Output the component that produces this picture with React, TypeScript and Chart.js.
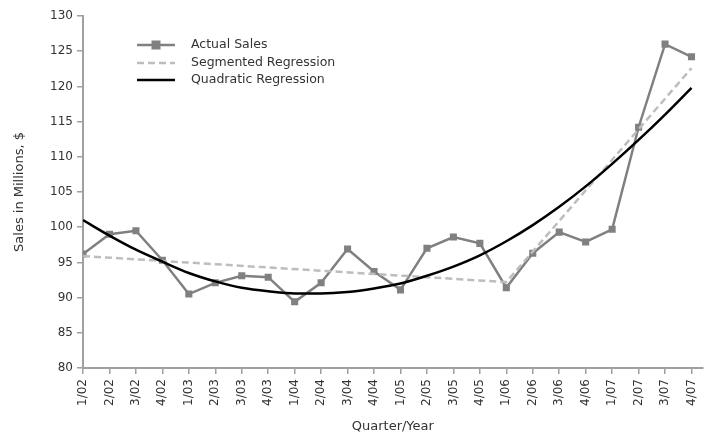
import React, { useEffect, useRef } from "react";
import { Chart, registerables } from "chart.js";

Chart.register(...registerables);

const quarters = [
  "1/02", "2/02", "3/02", "4/02",
  "1/03", "2/03", "3/03", "4/03",
  "1/04", "2/04", "3/04", "4/04",
  "1/05", "2/05", "3/05", "4/05",
  "1/06", "2/06", "3/06", "4/06",
  "1/07", "2/07", "3/07", "4/07",
];

const actualSales = [
  96.2, 99.0, 99.5, 95.3,
  90.5, 92.1, 93.1, 92.9,
  89.4, 92.1, 96.9, 93.7,
  91.1, 97.0, 98.6, 97.7,
  91.4, 96.3, 99.3, 97.9,
  99.7, 114.2, 126.0, 124.2,
];

// Segmented regression: readable at its end points and break point only
const segmentedRegression: (number | null)[] = [
  95.9, null, null, null,
  null, null, null, null,
  null, null, null, null,
  null, null, null, null,
  92.2, null, null, null,
  null, null, null, 122.6,
];

const quadraticRegression = [
  101.0, 98.8, 96.8, 95.1,
  93.5, 92.3, 91.4, 90.9,
  90.6, 90.6, 90.8, 91.3,
  92.0, 93.1, 94.4, 96.0,
  98.0, 100.3, 102.9, 105.8,
  109.0, 112.4, 116.0, 119.8,
];

const yTicks = { min: 80, max: 130, step: 5 };
const seriesNames = ["Actual Sales", "Segmented Regression", "Quadratic Regression"];

const FONT = "'DejaVu Sans', Verdana, sans-serif";

const legendPlugin = {
  id: "customLegend",
  afterDraw(chart: any) {
    const ctx = chart.ctx;
    const area = chart.chartArea;
    const x0 = area.left + 54;
    const x1 = x0 + 38;
    const tx = x0 + 54;
    const ys = [area.top + 29, area.top + 47, area.top + 64];
    ctx.save();
    // Actual Sales
    ctx.strokeStyle = "#808080";
    ctx.lineWidth = 2.5;
    ctx.setLineDash([]);
    ctx.beginPath();
    ctx.moveTo(x0, ys[0]);
    ctx.lineTo(x1, ys[0]);
    ctx.stroke();
    ctx.fillStyle = "#808080";
    ctx.fillRect((x0 + x1) / 2 - 4.5, ys[0] - 4.5, 9, 9);
    // Segmented
    ctx.strokeStyle = "#bdbdbd";
    ctx.setLineDash([7, 4]);
    ctx.beginPath();
    ctx.moveTo(x0, ys[1]);
    ctx.lineTo(x1, ys[1]);
    ctx.stroke();
    // Quadratic
    ctx.setLineDash([]);
    ctx.strokeStyle = "#000";
    ctx.lineWidth = 2.5;
    ctx.beginPath();
    ctx.moveTo(x0, ys[2]);
    ctx.lineTo(x1, ys[2]);
    ctx.stroke();
    ctx.fillStyle = "#333";
    ctx.font = `12.5px ${FONT}`;
    ctx.textBaseline = "middle";
    ctx.textAlign = "left";
    seriesNames.forEach((n, i) => ctx.fillText(n, tx, ys[i]));
    ctx.restore();
  },
};

export default function App() {
  const ref = useRef<HTMLCanvasElement | null>(null);
  useEffect(() => {
    if (!ref.current) return;
    const toPts = (arr: (number | null)[]) =>
      arr
        .map((v, i) => ({ x: i, y: v }))
        .filter((p) => p.y !== null) as { x: number; y: number }[];
    const chart = new Chart(ref.current, {
      type: "line",
      data: {
        datasets: [
          {
            label: seriesNames[0],
            data: toPts(actualSales),
            borderColor: "#808080",
            backgroundColor: "#808080",
            borderWidth: 2.5,
            pointStyle: "rect",
            pointRadius: 5,
            pointBorderWidth: 0,
            tension: 0,
            order: 3,
          },
          {
            label: seriesNames[1],
            data: toPts(segmentedRegression),
            borderColor: "#bdbdbd",
            borderWidth: 2.5,
            borderDash: [7, 4],
            pointRadius: 0,
            tension: 0,
            order: 2,
          },
          {
            label: seriesNames[2],
            data: toPts(quadraticRegression),
            borderColor: "#000",
            borderWidth: 2.5,
            pointRadius: 0,
            cubicInterpolationMode: "monotone",
            order: 1,
          },
        ],
      },
      options: {
        animation: false,
        responsive: false,
        maintainAspectRatio: false,
        layout: { padding: { top: 16, right: 4, left: 0, bottom: 0 } },
        plugins: { legend: { display: false }, tooltip: { enabled: false } },
        scales: {
          x: {
            type: "linear",
            min: 0,
            max: quarters.length - 1 + 0.42,
            afterBuildTicks: (s: any) => {
              s.ticks = quarters.map((_, i) => ({ value: i }));
            },
            afterFit: (s: any) => {
              s.height = 68;
            },
            ticks: {
              stepSize: 1,
              autoSkip: false,
              minRotation: 90,
              maxRotation: 90,
              color: "#333",
              font: { family: FONT, size: 12 },
              padding: 5,
              callback: (v: any) => quarters[v] ?? "",
            },
            grid: {
              drawOnChartArea: false,
              drawTicks: true,
              tickLength: 6,
              color: "#a0a0a0",
              lineWidth: 1.5,
            },
            border: { color: "#a0a0a0", width: 2 },
            title: {
              display: true,
              text: "Quarter/Year",
              color: "#333",
              font: { family: FONT, size: 13 },
              padding: { top: 4, bottom: 2 },
            },
          },
          y: {
            min: yTicks.min,
            max: yTicks.max,
            afterFit: (s: any) => {
              s.width = 83;
            },
            ticks: {
              stepSize: yTicks.step,
              color: "#333",
              font: { family: FONT, size: 12 },
              padding: 4,
            },
            grid: {
              drawOnChartArea: false,
              drawTicks: true,
              tickLength: 6,
              color: "#a0a0a0",
              lineWidth: 1.5,
            },
            border: { color: "#a0a0a0", width: 2 },
            title: {
              display: true,
              text: "Sales in Millions, $",
              color: "#333",
              font: { family: FONT, size: 13 },
              padding: { top: 12, bottom: 0 },
            },
          },
        },
      },
      plugins: [legendPlugin],
    } as any);
    return () => chart.destroy();
  }, []);
  return (
    <div style={{ position: "fixed", left: 0, top: 0, width: 711, height: 436, background: "#fff" }}>
      <canvas ref={ref} width={711} height={436} style={{ width: 711, height: 436 }} />
    </div>
  );
}
